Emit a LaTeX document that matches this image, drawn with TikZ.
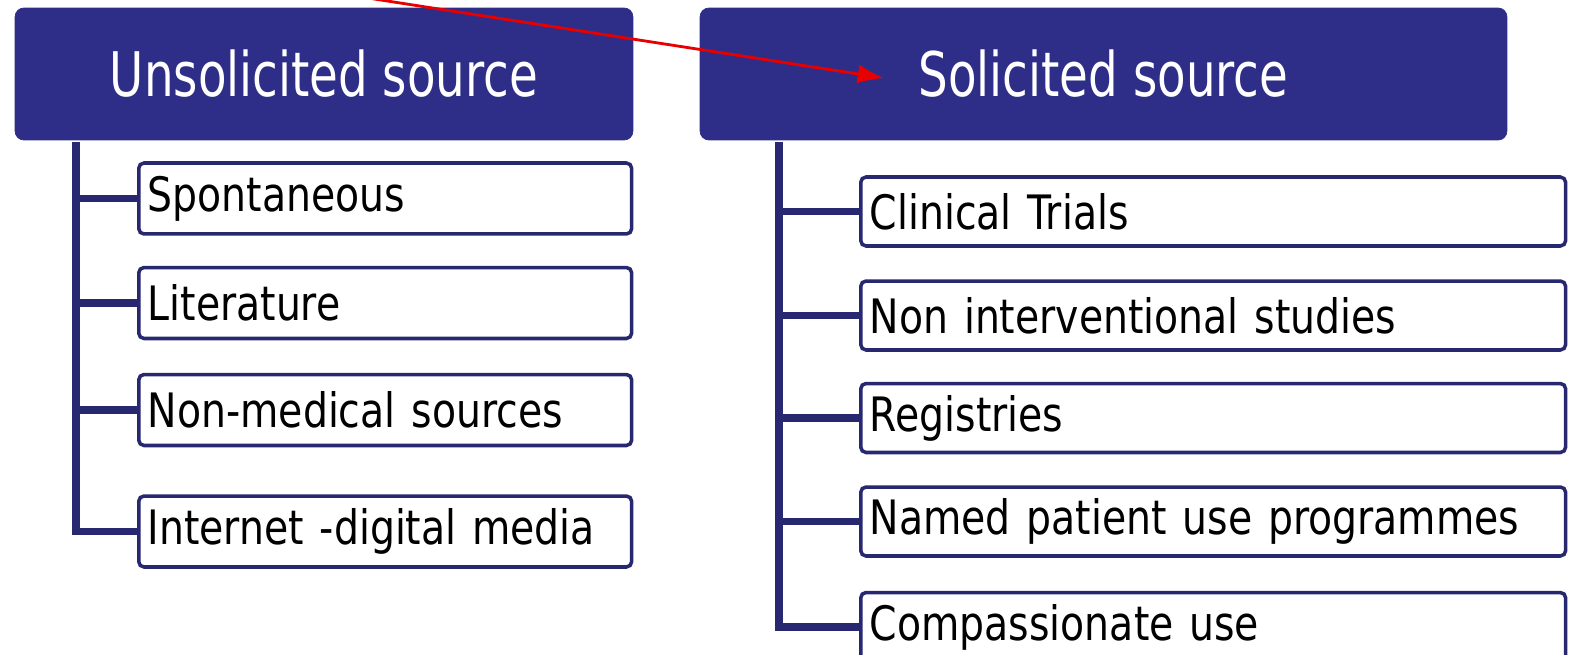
\documentclass[tikz,border=0pt]{standalone}
\usepackage{fontspec}
\usetikzlibrary{arrows.meta}

\newfontfamily\headfont{DejaVu Sans}[FakeStretch=0.76]
\newfontfamily\itemfont{DejaVu Sans}[FakeStretch=0.83]

\definecolor{srcblue}{RGB}{46,46,136}
\definecolor{treeblue}{RGB}{40,40,112}
\definecolor{pointred}{RGB}{232,0,0}

\tikzset{
  srchead/.style={rectangle,rounded corners=5pt,fill=srcblue,draw=srcblue,
    text=white,minimum height=2.64cm,inner sep=0pt,
    font=\headfont\fontsize{35}{40}\selectfont},
  srcitem/.style={rectangle,rounded corners=3pt,draw=treeblue,line width=2pt,
    fill=white,minimum height=1.42cm,inner xsep=0.18cm,text width=#1,
    align=left,anchor=west,font=\itemfont\fontsize{27}{30}\selectfont},
  treeline/.style={draw=treeblue,line width=4.2pt}
}

\begin{document}
\begin{tikzpicture}[x=0.02cm,y=-0.02cm]

      \useasboundingbox (0,0) rectangle (1588,655);
      \clip (0,0) rectangle (1588,655);

      % the two headers
      \node[srchead,minimum width=12.36cm] (uhead) at (324,74)    {Unsolicited source};
      \node[srchead,minimum width=16.14cm] (shead) at (1103.5,74) {Solicited source};

      % unsolicited items
      \begin{scope}[every node/.style={srcitem=9.5cm}]
        \node (u1) at (137,198.5) {Spontaneous};
        \node (u2) at (137,303)   {Literature};
        \node (u3) at (137,410)   {Non-medical sources};
        \node (u4) at (137,531.5) {Internet -digital media};
      \end{scope}

      % solicited items
      \begin{scope}[every node/.style={srcitem=13.74cm,minimum height=1.38cm}]
        \node (s1) at (859,211.5) {Clinical Trials};
        \node (s2) at (859,315.5) {Non interventional studies};
        \node (s3) at (859,418)   {Registries};
        \node (s4) at (859,521.5) {Named patient use programmes};
        \node (s5) at (859,627)   {Compassionate use};
      \end{scope}

      % tree lines
      \coordinate (utop) at (76,142);
      \coordinate (stop) at (779,142);
      \draw[treeline] (utop) |- (u4.west);
      \foreach \i in {1,2,3}
        \draw[treeline] (utop |- u\i.west) -- (u\i.west);
      \draw[treeline] (stop) |- (s5.west);
      \foreach \i in {1,2,3,4}
        \draw[treeline] (stop |- s\i.west) -- (s\i.west);

      % red pointer
      \coordinate (pfrom) at (355,-4);
      \coordinate (pto) at (884,78);
      \draw[pointred,line width=1.6pt,-{Latex[length=15pt,width=11pt]}] (pfrom) -- (pto);

    \end{tikzpicture}
\end{document}
